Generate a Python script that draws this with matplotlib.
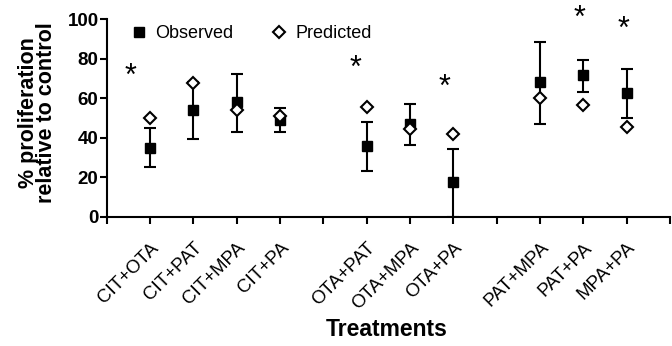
import numpy as np
import matplotlib.pyplot as plt

plt.rcParams['font.family'] = ['Liberation Sans', 'DejaVu Sans']

# dados
tratamentos = ['CIT+OTA', 'CIT+PAT', 'CIT+MPA', 'CIT+PA',
               'OTA+PAT', 'OTA+MPA', 'OTA+PA',
               'PAT+MPA', 'PAT+PA', 'MPA+PA']
posicoes = [1, 2, 3, 4, 6, 7, 8, 10, 11, 12]
observado = [35, 54, 58, 49, 36, 47, 17.5, 68, 71.5, 62.5]
erro_sup = [10, 14, 14, 6, 12, 10, 17, 20.5, 8, 12]
erro_inf = [10, 14.5, 15, 6, 13, 10.5, 17.5, 21, 8.5, 12.5]
previsto = [50, 67.5, 54, 51, 55.5, 44.5, 42, 60, 56.5, 45.5]

# asteriscos de significancia
estrela_x = [0.55, 5.73, 7.79, 10.9, 11.92]
estrela_y = [71, 75, 65, 100, 94.5]

fig = plt.figure(figsize=(6.72, 3.46), dpi=100)
ax = fig.add_axes([0.159, 0.373, 0.838, 0.572])

ax.errorbar(posicoes, observado, yerr=[erro_inf, erro_sup], fmt='none',
            ecolor='black', elinewidth=1.5, capsize=4.3, capthick=1.5, zorder=2)
ax.plot(posicoes, observado, 's', color='black', markersize=6.8,
        linestyle='none', label='Observed', zorder=3)
ax.plot(posicoes, previsto, 'D', markerfacecolor='white', markeredgecolor='black',
        markeredgewidth=1.5, markersize=6.3, linestyle='none',
        label='Predicted', zorder=4)

for x, y in zip(estrela_x, estrela_y):
    ax.text(x, y, '*', fontsize=22, ha='center', va='center')

ax.set_xlim(0, 13)
ax.set_ylim(0, 100)
ax.set_yticks(np.arange(0, 101, 20))
ax.set_xticks(posicoes)
ax.set_xticklabels(tratamentos, rotation=45, ha='right', rotation_mode='anchor',
                   fontsize=13.5)
ax.set_xticks([0, 5, 9, 13], minor=True)

for s in ['top', 'right']:
    ax.spines[s].set_visible(False)
for s in ['left', 'bottom']:
    ax.spines[s].set_linewidth(1.5)
ax.tick_params(axis='both', which='both', direction='out', length=5, width=1.5)
ax.tick_params(axis='x', which='major', pad=11)
ax.tick_params(axis='y', pad=1, labelsize=13.5)
for t in ax.get_yticklabels():
    t.set_fontweight('bold')

ax.set_ylabel('% proliferation\nrelative to control', fontsize=15.5,
              fontweight='bold', linespacing=0.85)
ax.yaxis.set_label_coords(-0.088, 0.525)
ax.set_xlabel('Treatments', fontsize=16.5, fontweight='bold')
ax.xaxis.set_label_coords(0.497, -0.51)

ax.legend(loc='upper left', bbox_to_anchor=(0.015, 1.05), ncol=2, frameon=False,
          fontsize=13, handlelength=0.8, handletextpad=0.5, columnspacing=2.15)

fig.savefig('out.png', dpi=100)
